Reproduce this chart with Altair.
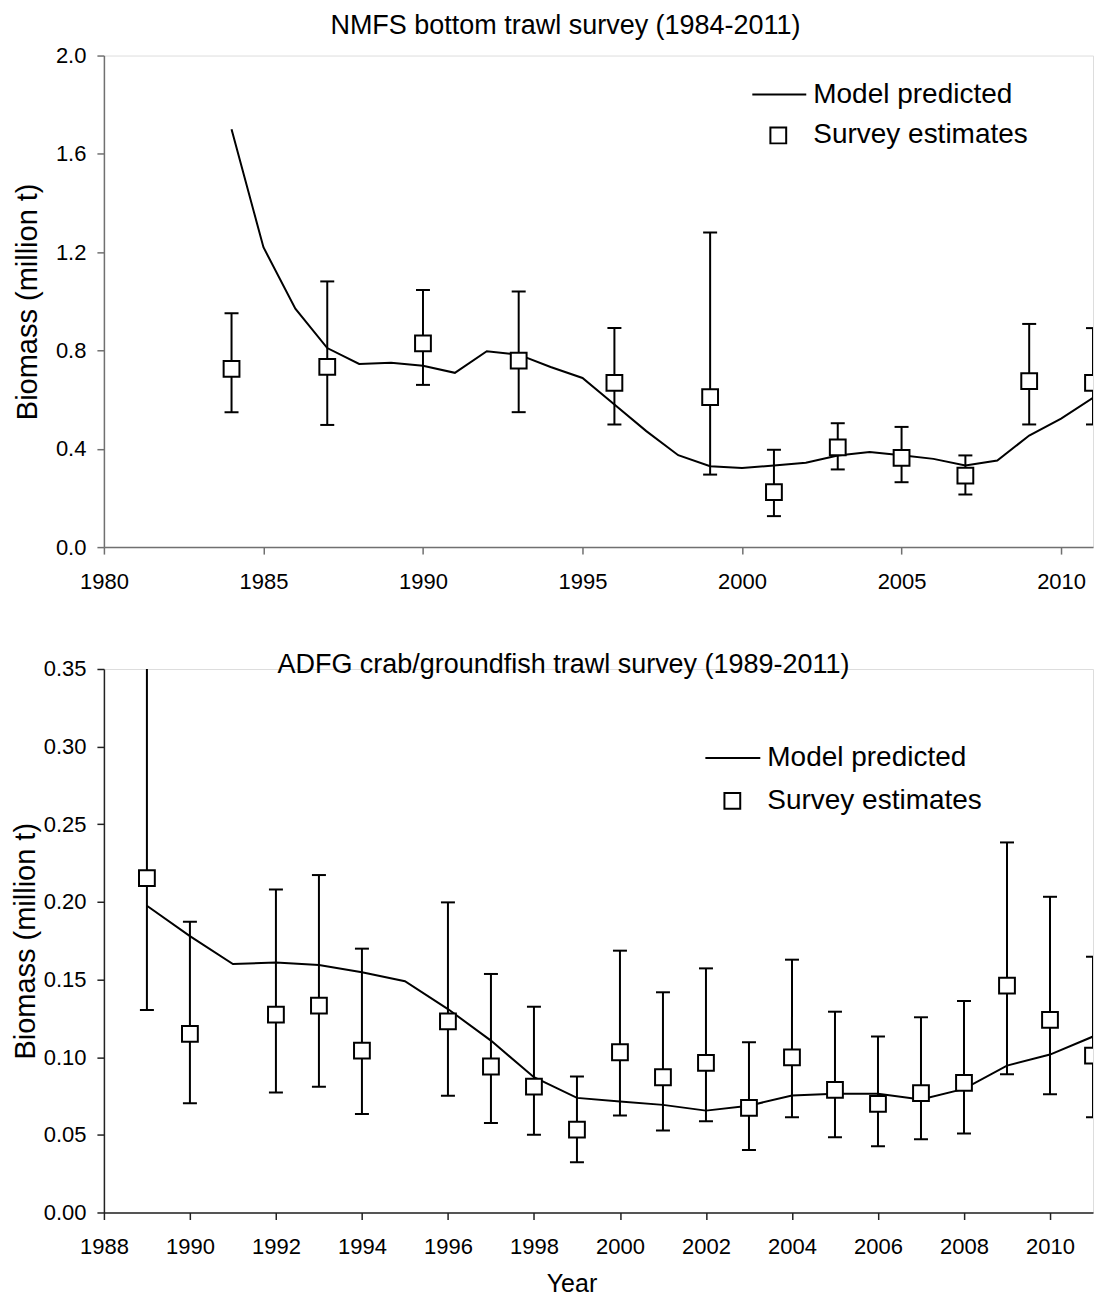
import altair as alt
import pandas as pd

FONT = "Liberation Sans"

# ---------------- NMFS bottom trawl survey ----------------
nmfs_title = "NMFS bottom trawl survey (1984-2011)"
nmfs_model_years = list(range(1984, 2012))
nmfs_model = [1.70, 1.22, 0.97, 0.81, 0.745, 0.75, 0.738, 0.709, 0.797, 0.783,
              0.733, 0.688, 0.58, 0.472, 0.374, 0.329, 0.322, 0.332, 0.343, 0.373,
              0.387, 0.374, 0.359, 0.332, 0.352, 0.454, 0.523, 0.607]
nmfs_survey_years = [1984, 1987, 1990, 1993, 1996, 1999, 2001, 2003, 2005, 2007, 2009, 2011]
nmfs_est = [0.725, 0.733, 0.829, 0.759, 0.668, 0.61, 0.224, 0.406, 0.363, 0.291, 0.675, 0.668]
nmfs_lo = [0.549, 0.497, 0.66, 0.549, 0.499, 0.295, 0.126, 0.316, 0.264, 0.214, 0.499, 0.499]
nmfs_hi = [0.951, 1.081, 1.046, 1.04, 0.891, 1.28, 0.396, 0.504, 0.489, 0.373, 0.908, 0.891]
nmfs_xticks = [1980, 1985, 1990, 1995, 2000, 2005, 2010]
nmfs_yticks = [0.0, 0.4, 0.8, 1.2, 1.6, 2.0]

# ---------------- ADFG crab/groundfish trawl survey ----------------
adfg_title = "ADFG crab/groundfish trawl survey (1989-2011)"
adfg_model_years = list(range(1989, 2012))
adfg_model = [0.1975, 0.178, 0.16, 0.161, 0.1594, 0.1547, 0.1489, 0.131, 0.1107, 0.0871,
              0.0738, 0.0714, 0.0693, 0.0656, 0.0688, 0.0753, 0.0764, 0.0764, 0.0727,
              0.0796, 0.0946, 0.1017, 0.1133]
adfg_survey_years = [1989, 1990, 1992, 1993, 1994, 1996, 1997, 1998, 1999, 2000, 2001,
                     2002, 2003, 2004, 2005, 2006, 2007, 2008, 2009, 2010, 2011]
adfg_est = [0.2153, 0.115, 0.1274, 0.1332, 0.1042, 0.1231, 0.094, 0.0811, 0.0534, 0.1032,
            0.0871, 0.0963, 0.0674, 0.0999, 0.079, 0.070, 0.0768, 0.0835, 0.1461, 0.124, 0.101]
adfg_lo = [0.1304, 0.0703, 0.0772, 0.0809, 0.0635, 0.0751, 0.0577, 0.050, 0.0324, 0.0624,
           0.0528, 0.0588, 0.0403, 0.0613, 0.0485, 0.0427, 0.0472, 0.0508, 0.089, 0.0761, 0.0613]
adfg_hi = [0.351, 0.1872, 0.208, 0.2173, 0.1699, 0.1997, 0.1536, 0.1325, 0.0875, 0.1686,
           0.1418, 0.1572, 0.1096, 0.1628, 0.1293, 0.1133, 0.1257, 0.1362, 0.2383, 0.2033, 0.1647]
adfg_xticks = list(range(1988, 2011, 2))
adfg_yticks = [0.0, 0.05, 0.10, 0.15, 0.20, 0.25, 0.30, 0.35]

legend_labels = ["Model predicted", "Survey estimates"]
y_title = "Biomass (million t)"
x_title = "Year"

W = 990


def panel(title, model_years, model, s_years, est, lo, hi, xdom, xticks, ydom, yticks,
          yfmt, h, axis_color, title_xy, leg, y_title_x, xtitle):
    mdf = pd.DataFrame({"year": model_years, "value": model})
    sdf = pd.DataFrame({"year": s_years, "est": est, "lo": lo, "hi": hi})

    xaxis = alt.Axis(values=xticks, format="d", tickSize=7, labelPadding=17,
                     labelFontSize=22, labelFont=FONT, labelColor="black",
                     domainColor=axis_color, tickColor=axis_color, domainWidth=1.5,
                     tickWidth=1.5, grid=False, labelFlush=False,
                     title=xtitle if xtitle else None,
                     titleFontSize=25, titleFont=FONT, titleFontWeight="normal",
                     titleColor="black", titlePadding=14, titleX=468)
    yaxis = alt.Axis(values=yticks, format=yfmt, tickSize=7, labelPadding=11,
                     labelFontSize=22, labelFont=FONT, labelColor="black",
                     domainColor=axis_color, tickColor=axis_color, domainWidth=1.5,
                     tickWidth=1.5, grid=False, title=y_title, titleFontSize=29,
                     titleFont=FONT, titleFontWeight="normal", titleColor="black",
                     titleX=y_title_x)
    xs = alt.Scale(domain=xdom, nice=False, zero=False)
    ys = alt.Scale(domain=ydom, nice=False)

    line = alt.Chart(mdf).mark_line(color="black", strokeWidth=2, clip=True).encode(
        x=alt.X("year:Q", scale=xs, axis=xaxis),
        y=alt.Y("value:Q", scale=ys, axis=yaxis),
    )
    bars = alt.Chart(sdf).mark_rule(color="black", strokeWidth=2, clip=True).encode(
        x="year:Q", y="lo:Q", y2="hi:Q")
    cap_lo = alt.Chart(sdf).mark_tick(color="black", orient="horizontal", size=14,
                                      thickness=2, clip=True, opacity=1).encode(
        x="year:Q", y="lo:Q")
    cap_hi = alt.Chart(sdf).mark_tick(color="black", orient="horizontal", size=14,
                                      thickness=2, clip=True, opacity=1).encode(
        x="year:Q", y="hi:Q")
    pts = alt.Chart(sdf).mark_point(shape="square", size=250, filled=True, fill="white",
                                    stroke="black", strokeWidth=2, opacity=1,
                                    clip=True).encode(x="year:Q", y="est:Q")

    tdf = pd.DataFrame({"t": [title]})
    ttl = alt.Chart(tdf).mark_text(font=FONT, fontSize=27, baseline="alphabetic",
                                   align="center", color="black").encode(
        text="t:N", x=alt.value(title_xy[0]), y=alt.value(title_xy[1]))

    lx0, lx1, ly1, sx, ly2, tx = leg
    l1 = pd.DataFrame({"t": [legend_labels[0]]})
    l2 = pd.DataFrame({"t": [legend_labels[1]]})
    leg_line = alt.Chart(l1).mark_rule(color="black", strokeWidth=2).encode(
        x=alt.value(lx0), x2=alt.value(lx1), y=alt.value(ly1))
    leg_pt = alt.Chart(l2).mark_point(shape="square", size=250, filled=True, fill="white",
                                      stroke="black", strokeWidth=2, opacity=1).encode(
        x=alt.value(sx), y=alt.value(ly2))
    leg_t1 = alt.Chart(l1).mark_text(font=FONT, fontSize=28, align="left",
                                     baseline="middle", color="black").encode(
        text="t:N", x=alt.value(tx), y=alt.value(ly1))
    leg_t2 = alt.Chart(l2).mark_text(font=FONT, fontSize=28, align="left",
                                     baseline="middle", color="black").encode(
        text="t:N", x=alt.value(tx), y=alt.value(ly2))

    return alt.layer(line, bars, cap_lo, cap_hi, pts, ttl, leg_line, leg_pt,
                     leg_t1, leg_t2).properties(width=W, height=h)


top = panel(nmfs_title, nmfs_model_years, nmfs_model, nmfs_survey_years, nmfs_est,
            nmfs_lo, nmfs_hi, [1980, 2011], nmfs_xticks, [0, 2.0], nmfs_yticks, ".1f",
            492, "#707070", (462, -22), (649, 703, 39, 675, 80, 710), -61, None)
bottom = panel(adfg_title, adfg_model_years, adfg_model, adfg_survey_years, adfg_est,
               adfg_lo, adfg_hi, [1988, 2011], adfg_xticks, [0, 0.35], adfg_yticks, ".2f",
               544, "#222222", (460, 4), (602, 657, 89, 629, 132, 664), -63, x_title)

chart = alt.vconcat(top, bottom, spacing=57).properties(
    padding={"left": 3, "top": 2, "right": 0, "bottom": 0}
).configure_view(stroke=None).configure(font=FONT)

chart.save("out.html", embed_options={"renderer": "svg", "actions": False})
